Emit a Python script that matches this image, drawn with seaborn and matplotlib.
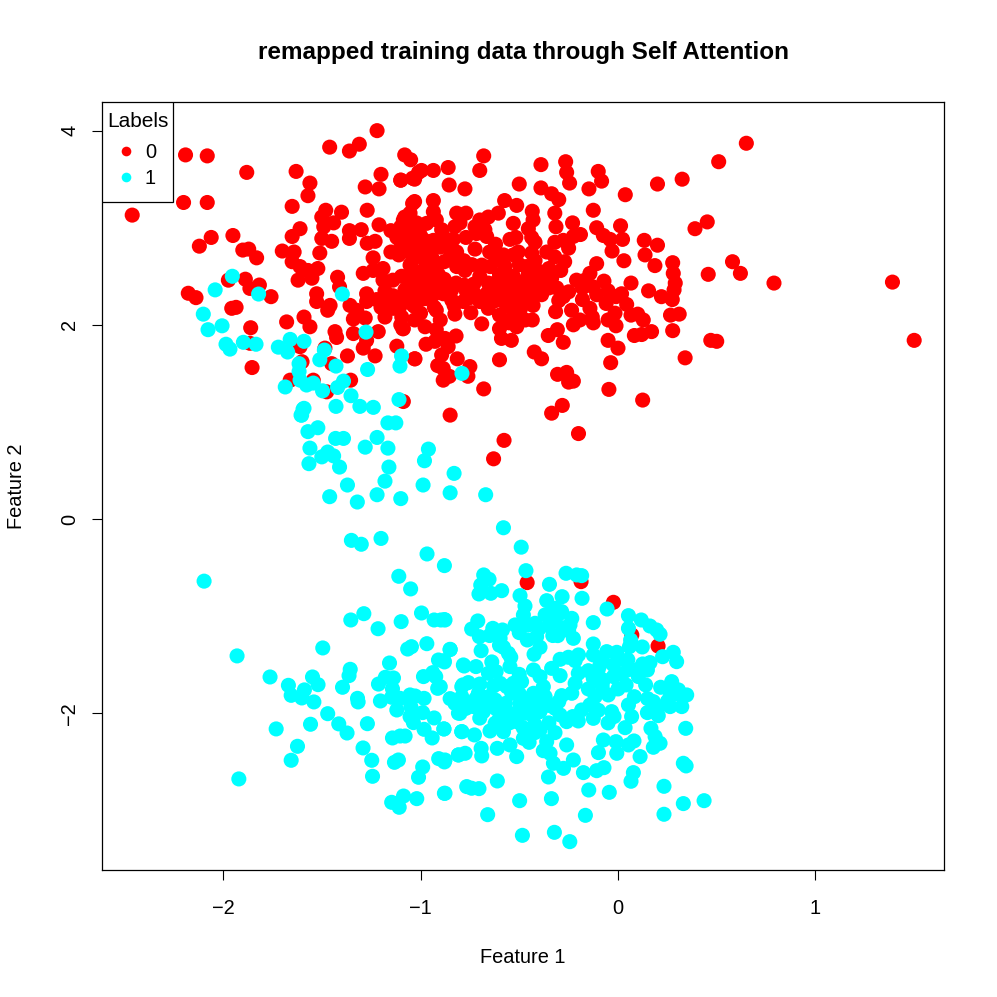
import pandas as pd
import seaborn as sns
import matplotlib.pyplot as plt
from matplotlib.patches import Rectangle

# =========================
# DATA
# =========================

TITLE = "remapped training data through Self Attention"
X_TICKS = [-2, -1, 0, 1]
Y_TICKS = [-2, 0, 2, 4]

RED_TOP = [
    (-1.22,4.00),(-1.46,3.83),(-1.36,3.79),(-1.31,3.86),(-2.19,3.75),(-2.08,3.74),(-1.88,3.57),
    (-2.20,3.26),(-2.08,3.26),(-2.46,3.13),(-1.63,3.58),(-1.56,3.46),(-1.57,3.33),(-1.65,3.22),
    (-1.08,3.75),(-1.05,3.70),(-1.20,3.55),(-1.28,3.42),(-1.21,3.40),(-1.10,3.49),(-1.04,3.51),
    (-1.01,3.57),(-1.48,3.18),(-1.40,3.16),(-1.27,3.18),(-1.50,3.11),(-1.44,3.05),(-1.49,3.01),
    (-1.04,3.25),(-1.08,3.11),(-1.61,2.99),(-1.65,2.91),(-1.50,2.89),(-1.45,2.86),(-1.36,2.97),
    (-1.36,2.89),(-1.30,2.98),(-1.21,3.03),(-1.15,2.97),(-1.27,2.84),(-1.23,2.86),(-1.10,3.01),
    (-1.02,3.05),(-2.06,2.90),(-1.95,2.92),(-2.12,2.81),(-1.90,2.77),(-1.87,2.78),(-1.83,2.69),
    (-1.70,2.76),(-1.64,2.75),(-1.51,2.74),(-1.65,2.65),(-1.61,2.60),(-1.62,2.46),(-1.57,2.56),
    (-1.52,2.58),(-1.55,2.48),(-1.42,2.49),(-1.41,2.39),(-1.24,2.69),(-1.29,2.53),(-1.24,2.56),
    (-1.19,2.58),(-1.19,2.46),(-1.14,2.46),(-1.11,2.72),(-1.10,2.85),(-1.05,2.62),(-1.07,2.49),
    (-1.03,2.50),
]

RED_LEFT_LOW = [
    (-1.973,2.46),(-1.887,2.47),(-1.816,2.41),(-1.864,2.375),(-1.757,2.29),(-2.176,2.325),
    (-2.137,2.28),(-1.956,2.17),(-1.934,2.18),(-1.86,1.97),(-1.864,1.81),(-1.678,2.03),
    (-1.59,2.08),(-1.56,1.98),(-1.853,1.56),(-1.61,1.775),(-1.484,1.76),(-1.433,1.93),
    (-1.425,1.87),(-1.34,1.91),(-1.214,1.93),(-1.29,1.76),(-1.37,1.68),(-1.23,1.68),
    (-1.273,1.84),(-1.12,1.78),(-1.03,1.65),(-1.60,1.62),(-1.45,1.60),(-1.66,1.43),
    (-1.543,1.43),(-1.354,1.43),(-1.475,1.31),(-1.087,1.21),(-1.526,2.32),(-1.526,2.24),
    (-1.458,2.20),(-1.47,2.15),(-1.357,2.20),(-1.323,2.15),(-1.34,2.06),(-1.28,2.07),
    (-1.273,2.32),(-1.273,2.24),(-1.222,2.26),(-1.163,2.26),(-1.18,2.08),(-1.138,2.17),
    (-1.095,2.08),(-1.09,1.96),(-1.104,2.19),(-1.07,2.29),(-1.03,2.19),(-1.02,2.39),
]

RED_RIGHT = [
    (-0.68,3.74),(-0.70,3.59),(-0.86,3.62),(-0.935,3.59),(-0.995,3.59),(-1.03,3.50),(-1.10,3.49),
    (-0.855,3.44),(-0.775,3.40),(-0.39,3.65),(-0.265,3.68),(-0.26,3.57),(-0.245,3.46),(-0.50,3.45),
    (-0.39,3.41),(-0.336,3.35),(-0.30,3.29),(-0.147,3.40),(-0.10,3.58),(-0.083,3.48),(0.037,3.34),
    (0.20,3.45),(0.325,3.50),(0.51,3.68),(0.65,3.87),(-0.574,3.28),(-0.513,3.23),(-0.434,3.17),
    (-0.43,3.08),(-0.454,2.99),(-0.437,2.90),(-0.32,3.15),(-0.314,3.01),(-0.23,3.05),(-0.125,3.18),
    (-0.108,3.00),(-0.074,2.92),(-0.04,2.88),(0.013,3.02),(0.023,2.88),(-0.03,2.76),(0.03,2.66),
    (0.133,2.87),(0.20,2.82),(0.137,2.72),(0.187,2.61),(0.277,2.64),(0.28,2.53),(0.29,2.43),
    (0.284,2.36),(0.39,2.99),(0.452,3.06),(0.457,2.52),(0.22,2.29),(0.155,2.35),(0.066,2.43),
    (0.275,2.26),(0.31,2.11),(0.266,2.10),(0.277,1.94),(0.17,1.93),(0.12,1.90),(0.083,1.89),
    (0.128,2.05),(0.10,2.11),(0.066,2.10),(0.044,2.21),(0.018,2.32),(-0.01,2.29),(-0.015,2.12),
    (-0.01,1.99),(-0.05,2.05),(-0.125,2.02),(-0.05,1.84),(0.00,1.76),(-0.037,1.61),(0.34,1.66),
    (0.47,1.84),(0.50,1.83),(-0.046,1.335),(0.125,1.225),(-0.282,1.17),(-0.336,1.09),(-0.20,0.88),
    (-0.577,0.81),(-0.63,0.62),(-0.85,1.07),(-0.68,1.34),(-0.76,1.47),(-0.75,1.57),(-0.60,1.64),
    (-0.424,1.72),(-0.387,1.65),(-0.306,1.49),(-0.26,1.51),(-0.226,1.42),(-0.25,1.41),(-0.353,1.89),
    (-0.307,1.95),(-0.277,1.82),(-0.60,1.96),(-0.59,1.86),(-0.54,1.84),(-0.513,1.98),(-0.434,2.05),
    (-0.69,2.01),(-0.826,2.11),(-0.745,2.125),(-0.93,2.18),(-1.087,1.96),(-0.977,1.98),(-0.92,1.95),
    (-0.82,1.885),(-0.972,1.80),(-0.927,1.83),(-0.876,1.86),(-0.86,1.775),(-0.893,1.69),(-1.028,1.65),
    (-0.814,1.65),(-0.913,1.58),(-0.885,1.55),(-0.885,1.43),(-0.854,1.47),(0.79,2.43),(1.39,2.44),
    (1.50,1.84),(0.58,2.65),(0.62,2.53),
]

RED_DENSE = [
    (-0.316,2.135),(-0.277,2.29),(-0.25,2.34),(-0.235,2.15),(-0.226,2.00),(-0.193,2.05),(-0.18,2.26),
    (-0.142,2.17),(-0.108,2.31),(-0.21,2.46),(-0.167,2.46),(-0.142,2.53),(-0.108,2.63),(-0.071,2.45),
    (-0.125,2.39),(-0.69,2.615),(-0.724,2.78),(-0.65,2.75),(-0.615,2.67),(-0.572,2.60),(-0.53,2.50),
    (-0.657,2.43),(-0.623,2.43),(-0.665,2.32),(-0.614,2.32),(-0.58,2.32),(-0.657,2.17),(-0.564,2.19),
    (-0.513,2.255),(-0.48,2.32),(-0.429,2.29),(-0.387,2.31),(-0.53,2.08),(-0.496,2.15),(-0.47,2.39),
    (-0.513,2.36),(-0.454,2.53),(-0.378,2.46),(-0.336,2.48),(-0.463,2.60),(-0.53,2.72),(-0.505,2.75),
    (-0.437,2.74),(-0.361,2.75),(-0.32,2.70),(-0.27,2.65),(-0.29,2.56),(-0.25,2.79),(-0.277,2.87),
    (-0.226,2.91),(-0.19,2.93),(-0.547,2.88),(-0.517,2.90),(-0.53,3.045),(-0.70,3.08),(-0.657,3.11),
    (-0.606,3.15),(-0.724,3.01),(-0.674,2.98),(-0.716,2.94),(-0.665,2.91),(-0.817,3.15),(-0.77,3.15),
    (-0.826,3.01),(-0.935,3.28),(-1.03,3.27),(-0.935,3.165),(-1.053,3.15),(-1.087,3.08),(-0.969,3.045),
    (-1.02,3.01),(-0.893,2.98),(-1.07,2.99),(-1.00,2.92),(-0.935,2.87),(-0.885,2.91),(-0.834,2.88),
    (-0.817,2.75),(-0.90,2.80),(-1.036,2.82),(-1.096,2.86),(-0.986,2.79),(-0.85,2.70),(-0.944,2.70),
    (-0.935,2.60),(-1.053,2.615),(-0.817,2.60),(-0.775,2.56),(-0.648,2.60),(-1.028,2.46),(-0.944,2.44),
    (-0.868,2.40),(-0.842,2.36),(-0.885,2.32),(-0.935,2.31),(-0.977,2.27),(-1.045,2.32),(-1.096,2.50),
    (-1.079,2.36),(-1.036,2.20),(-0.842,2.255),(-0.767,2.34),(-0.724,2.31),(-0.783,2.24),(-1.00,2.12),
]

# points inside the solid part of the red cloud, positions only roughly readable
RED_FILL = [
    (-1.06,2.75),(-1.00,2.70),(-0.97,2.62),(-1.00,2.55),(-1.06,2.40),(-1.00,2.40),(-0.98,2.33),
    (-1.09,2.28),(-1.00,2.26),(-0.96,2.50),(-0.91,2.52),(-0.88,2.47),(-0.90,2.39),(-0.82,2.43),
    (-0.78,2.41),(-0.73,2.42),(-0.75,2.28),(-0.70,2.24),(-0.62,2.25),(-0.70,2.50),(-0.60,2.52),
    (-0.56,2.42),(-0.50,2.44),(-0.44,2.43),(-0.41,2.38),(-0.43,2.20),(-0.47,2.22),(-0.55,2.27),
    (-0.40,2.55),(-0.35,2.58),(-0.42,2.66),(-0.50,2.62),(-0.58,2.72),(-0.62,2.83),(-0.78,2.66),
    (-0.74,2.62),(-0.88,2.65),(-0.95,2.80),(-0.98,2.87),(-0.87,2.83),(-0.77,2.90),(-0.80,3.05),
    (-0.92,3.08),(-1.05,2.92),(-1.12,2.90),(-1.15,2.75),(-1.18,2.35),(-1.14,2.30),(-1.20,2.18),
    (-0.83,2.20),(-0.92,2.15),(-1.03,2.05),(-1.10,2.00),(-0.90,2.05),(-0.47,2.05),(-0.55,2.02),
    (-0.60,2.10),(-0.35,2.38),(-0.31,2.38),(-0.30,2.25),(-0.18,2.38),(-0.13,2.08),(-0.06,2.22),
    (-0.05,2.35),(-0.42,2.85),(-0.32,2.85),
]

RED_LOW = [(-0.46,-0.655),(-0.187,-0.645),(-0.023,-0.858),(0.07,-1.194),(0.203,-1.308)]

CYAN_TOP = [
    (-1.953,2.50),(-2.04,2.36),(-1.82,2.317),(-1.396,2.317),(-2.10,2.11),(-2.005,1.99),(-2.076,1.95),
    (-1.985,1.80),(-1.965,1.75),(-1.897,1.82),(-1.833,1.80),(-1.72,1.77),(-1.673,1.72),(-1.66,1.85),
    (-1.59,1.83),(-1.487,1.74),(-1.51,1.64),(-1.276,1.925),(-1.096,1.68),(-1.104,1.575),(-1.615,1.60),
    (-1.615,1.52),(-1.61,1.43),(-1.577,1.38),(-1.543,1.40),(-1.685,1.36),(-1.496,1.32),(-1.428,1.575),
    (-1.268,1.54),(-1.42,1.355),(-1.39,1.42),(-1.352,1.27),(-1.307,1.16),(-1.239,1.15),(-1.428,1.16),
    (-1.109,1.23),(-1.59,1.14),(-1.602,1.07),(-0.79,1.50),
]

CYAN_MID = [
    (-1.595,1.13),(-1.605,1.07),(-1.57,0.90),(-1.52,0.94),(-1.56,0.73),(-1.565,0.57),(-1.50,0.64),
    (-1.43,0.83),(-1.39,0.83),(-1.47,0.69),(-1.44,0.65),(-1.41,0.535),(-1.22,0.84),(-1.28,0.74),
    (-1.165,0.99),(-1.125,0.99),(-1.165,0.73),(-1.16,0.535),(-1.18,0.39),(-1.22,0.25),(-1.37,0.35),
    (-1.46,0.23),(-1.32,0.175),(-1.10,0.21),(-0.987,0.35),(-0.98,0.60),(-0.96,0.72),(-0.83,0.47),
    (-0.85,0.27),(-0.67,0.25),(-1.35,-0.22),(-1.30,-0.26),(-1.20,-0.20),(-1.11,-0.59),(-1.05,-0.72),
    (-0.967,-0.36),(-0.58,-0.09),(-0.49,-0.29),(-2.096,-0.64),(-0.879,-0.48),
]

CYAN_LOW_LEFT = [
    (-1.353,-1.04),(-1.287,-0.975),(-1.215,-1.13),(-1.098,-1.057),(-0.995,-0.968),(-0.931,-1.04),
    (-0.879,-1.036),(-0.897,-1.04),(-1.495,-1.328),(-1.929,-1.41),(-1.065,-1.339),(-1.046,-1.315),
    (-0.968,-1.284),(-0.85,-1.345),(-0.909,-1.452),(-0.879,-1.472),(-1.157,-1.483),(-1.356,-1.548),
    (-1.362,-1.613),(-1.762,-1.627),(-1.547,-1.627),(-1.669,-1.713),(-1.519,-1.706),(-1.395,-1.733),
    (-1.588,-1.76),(-1.655,-1.816),(-1.601,-1.843),(-1.54,-1.884),(-1.319,-1.847),(-1.316,-1.884),
    (-1.178,-1.63),(-1.137,-1.637),(-1.213,-1.70),(-1.142,-1.75),(-1.146,-1.836),(-1.203,-1.874),
    (-1.103,-1.847),(-1.12,-1.967),(-1.053,-1.812),(-1.027,-1.823),(-0.982,-1.847),(-0.985,-1.623),
    (-0.938,-1.582),(-0.923,-1.623),(-0.913,-1.744),(-1.049,-1.932),(-1.053,-2.035),(-0.989,-1.994),
    (-0.931,-2.049),(-1.036,-2.097),(-0.982,-2.166),(-0.941,-2.255),(-0.882,-2.162),(-0.783,-1.503),
    (-0.825,-1.898),(-0.791,-1.727),(-0.808,-2.00),(-0.791,-2.19),(-0.808,-2.43),(-1.47,-2.005),
    (-1.557,-2.114),(-1.414,-2.11),(-1.372,-2.204),(-1.269,-2.108),(-1.731,-2.162),(-1.623,-2.341),
    (-1.655,-2.485),(-1.291,-2.358),(-1.247,-2.485),(-1.243,-2.65),(-1.142,-2.255),(-1.103,-2.235),
    (-1.078,-2.235),(-1.132,-2.506),(-1.112,-2.482),(-0.908,-2.468),(-0.879,-2.502),(-0.989,-2.554),
    (-1.01,-2.66),(-1.92,-2.677),(-0.879,-2.825),(-1.086,-2.853),(-1.019,-2.88),(-1.146,-2.918),
    (-1.108,-2.969),
]

CYAN_LOW_RIGHT = [
    (-0.466,-0.532),(-0.263,-0.559),(-0.209,-0.576),(-0.184,-0.583),(-0.68,-0.576),(-0.653,-0.621),
    (-0.695,-0.68),(-0.704,-0.772),(-0.644,-0.765),(-0.589,-0.738),(-0.496,-0.789),(-0.347,-0.673),
    (-0.361,-0.841),(-0.283,-0.80),(-0.182,-0.817),(-0.055,-0.927),(-0.471,-0.896),(-0.479,-0.988),
    (-0.319,-0.92),(-0.285,-0.954),(-0.369,-0.988),(-0.234,-1.023),(-0.327,-1.023),(-0.125,-1.067),
    (0.053,-0.995),(0.118,-1.04),(0.162,-1.102),(0.196,-1.143),(0.213,-1.187),(0.053,-1.126),
    (0.064,-1.246),(0.058,-1.315),(0.123,-1.318),(-0.71,-1.05),(-0.876,-1.04),(-0.741,-1.133),
    (-0.702,-1.212),(-0.634,-1.126),(-0.585,-1.143),(-0.597,-1.229),(-0.521,-1.091),(-0.454,-1.091),
    (-0.42,-1.074),(-0.243,-1.091),(-0.305,-1.201),(-0.226,-1.229),(-0.459,-1.246),(-0.412,-1.212),
    (-0.395,-1.321),(-0.425,-1.393),(-0.58,-1.321),(-0.555,-1.383),(-0.543,-1.424),(-0.547,-1.52),
    (-0.693,-1.356),(-0.85,-1.342),(-0.881,-1.459),(-0.779,-1.514),(-0.719,-1.52),(-0.639,-1.472),
    (-0.656,-1.589),(-0.617,-1.572),(-0.125,-1.287),(-0.125,-1.40),(-0.057,-1.366),(-0.006,-1.373),
    (-0.091,-1.503),(-0.023,-1.503),(-0.293,-1.445),(-0.251,-1.424),(-0.217,-1.459),(-0.336,-1.538),
    (-0.293,-1.613),(-0.428,-1.555),(-0.395,-1.623),(-0.201,-1.589),(-0.15,-1.562),(-0.125,-1.641),
    (-0.074,-1.658),(-0.023,-1.623),(0.049,-1.555),(0.125,-1.493),(0.162,-1.479),(0.149,-1.555),
    (0.226,-1.418),(0.28,-1.373),(0.297,-1.469),(0.103,-1.623),(0.14,-1.709),(0.041,-1.709),
    (0.083,-1.83),(0.216,-1.733),(0.272,-1.675),(0.306,-1.76),(0.348,-1.812),(0.323,-1.932),
    (0.264,-1.83),(0.264,-1.932),(0.179,-1.881),(0.149,-1.994),(0.204,-2.025),(0.053,-1.915),
    (0.069,-2.035),(0.036,-2.149),(0.167,-2.156),(0.188,-2.241),(0.213,-2.31),(0.179,-2.351),
    (0.343,-2.156),(0.112,-2.447),(0.331,-2.516),(0.345,-2.543),(0.233,-2.753),(0.331,-2.931),
    (0.233,-3.041),(0.436,-2.901),(0.078,-2.612),(0.066,-2.701),(-0.044,-2.815),(-0.148,-2.791),
    (-0.165,-3.052),(-0.322,-3.227),(-0.244,-3.323),(-0.484,-3.258),(-0.66,-3.045),(-0.498,-2.901),
    (-0.337,-2.88),(-0.352,-2.657),(-0.611,-2.698),(-0.766,-2.756),(-0.741,-2.773),(-0.704,-2.777),
    (-0.876,-2.825),(-0.175,-2.612),(-0.108,-2.592),(-0.071,-2.561),(-0.099,-2.406),(-0.074,-2.276),
    (-0.006,-2.413),(-0.01,-2.293),(0.053,-2.327),(0.081,-2.286),(-0.26,-2.327),(-0.226,-2.482),
    (-0.276,-2.568),(-0.327,-2.516),(-0.344,-2.413),(-0.378,-2.386),(-0.319,-2.20),(-0.361,-2.293),
    (-0.479,-2.259),(-0.45,-2.30),(-0.513,-2.447),(-0.547,-2.327),(-0.611,-2.362),(-0.58,-2.19),
    (-0.648,-2.183),(-0.622,-2.104),(-0.69,-2.44),(-0.693,-2.362),(-0.774,-2.413),(-0.808,-2.43),
    (-0.727,-2.224),(-0.791,-2.19),(-0.876,-2.482),(-0.881,-2.162),(-0.032,-1.984),(-0.02,-2.035),
    (-0.125,-2.053),(-0.201,-2.08),(-0.26,-2.087),(-0.229,-2.035),(-0.293,-2.018),(-0.319,-1.95),
    (-0.184,-1.967),(-0.142,-1.915),(-0.116,-1.83),(-0.049,-1.812),(-0.285,-1.819),(-0.234,-1.795),
    (-0.217,-1.692),(-0.378,-1.727),(-0.428,-1.795),(-0.369,-1.83),(-0.403,-1.864),(-0.428,-2.035),
    (-0.395,-1.984),(-0.42,-2.12),(-0.395,-2.173),(-0.496,-1.898),(-0.471,-2.001),(-0.521,-2.001),
    (-0.563,-2.018),(-0.513,-2.087),(-0.589,-1.932),(-0.622,-1.864),(-0.656,-1.83),(-0.707,-1.795),
    (-0.682,-1.984),(-0.732,-1.932),(-0.80,-2.001),(-0.825,-1.898),(-0.791,-1.83),(-0.786,-1.709),
    (-0.758,-1.685),(-0.90,-1.727),(-0.488,-1.675),(-0.53,-1.692),(-0.563,-1.727),(-0.597,-1.692),
    (-0.538,-1.795),(-0.758,-1.898),
]

# same for the solid part of the cyan cloud
CYAN_FILL = [
    (-0.62,-1.95),(-0.57,-1.90),(-0.50,-1.80),(-0.45,-1.85),(-0.45,-1.95),(-0.35,-1.92),(-0.30,-1.88),
    (-0.55,-2.10),(-0.60,-2.05),(-0.68,-1.90),(-0.72,-1.85),(-0.85,-1.85),(-0.77,-1.95),(-0.70,-2.05),
    (-0.48,-2.15),(-0.42,-2.20),(-0.35,-2.10),(-0.15,-1.75),(-0.08,-1.72),(0.00,-1.75),(0.02,-1.60),
    (-0.10,-1.97),(-0.05,-2.10),(-0.20,-1.40),(-0.35,-1.10),(-0.33,-1.20),(-0.28,-1.12),(-0.40,-1.13),
    (-0.30,-0.98),(-0.25,-1.15),(-0.50,-1.17),(-0.65,-1.20),(-0.60,-1.30),(-0.10,-1.55),(0.05,-1.45),
    (0.10,-1.55),(0.30,-1.80),(0.27,-1.75),(0.25,-1.88),(0.20,-1.95),(0.15,-1.85),(-0.70,-1.70),
    (-0.63,-1.72),(-0.50,-1.60),(-0.08,-1.45),(0.00,-1.45),
]

red_points = RED_TOP + RED_LEFT_LOW + RED_RIGHT + RED_DENSE + RED_FILL + RED_LOW
cyan_points = CYAN_TOP + CYAN_MID + CYAN_LOW_LEFT + CYAN_LOW_RIGHT + CYAN_FILL

df = pd.DataFrame(red_points + cyan_points, columns=["f1", "f2"])
df["label"] = ["0"] * len(red_points) + ["1"] * len(cyan_points)

# =========================
# PLOT
# =========================

sns.set_theme(style="ticks")
plt.rcParams["font.family"] = ["Liberation Sans", "DejaVu Sans"]
FS = 14.4

fig = plt.figure(figsize=(9.97, 9.97), dpi=100)
ax = fig.add_axes([102 / 997, 1 - 870 / 997, 842 / 997, 768 / 997])

sns.scatterplot(
    data=df, x="f1", y="f2", hue="label",
    palette={"0": "#ff0000", "1": "#00ffff"},
    s=118, linewidth=0, alpha=1, ax=ax, zorder=3
)

ax.set_xlim(-2.613, 1.651)
ax.set_ylim(-3.615, 4.295)
ax.set_xticks(X_TICKS)
ax.set_yticks(Y_TICKS)
ax.set_xticklabels([str(t).replace("-", "\u2212") for t in X_TICKS], fontsize=FS)
ax.set_yticklabels([str(t).replace("-", "\u2212") for t in Y_TICKS], fontsize=FS, rotation=90, va="center")
ax.tick_params(length=7.5, width=0.8, color="black", labelcolor="black")
ax.tick_params(axis="x", pad=13.5)
ax.tick_params(axis="y", pad=9)
for s in ax.spines.values():
    s.set_visible(True)
    s.set_linewidth(0.9)
    s.set_color("black")

ax.set_xlabel("")
ax.set_ylabel("")
fig.text(523 / 997, 1 - 957 / 997, "Feature 1", fontsize=FS, ha="center", va="center", color="black")
fig.text(16 / 997, 1 - 486 / 997, "Feature 2", fontsize=FS, ha="center", va="center", rotation=90, color="black")
fig.text(523 / 997, 1 - 53 / 997, TITLE, fontsize=17.45, fontweight="bold", ha="center", va="center", color="black")

# legend box is a plain rectangle, the legend itself has no frame
ax.add_patch(Rectangle((0, 1 - 100 / 768), 71 / 842, 100 / 768, transform=ax.transAxes,
                       facecolor="white", edgecolor="black", linewidth=0.9, zorder=4))
sns.move_legend(
    ax, "upper left", bbox_to_anchor=(5 / 842, 1 - 10 / 768), title="Labels", frameon=False,
    fontsize=FS, title_fontsize=15, markerscale=0.64, alignment="left",
    borderaxespad=0, borderpad=0, labelspacing=0.35, handletextpad=0, handlelength=1.9
)
leg = ax.get_legend()
leg.set_zorder(5)
leg.get_title().set_color("black")
for t in leg.get_texts():
    t.set_color("black")
leg._legend_box.sep = 8.5

fig.savefig("out.png", dpi=100, facecolor="white")
